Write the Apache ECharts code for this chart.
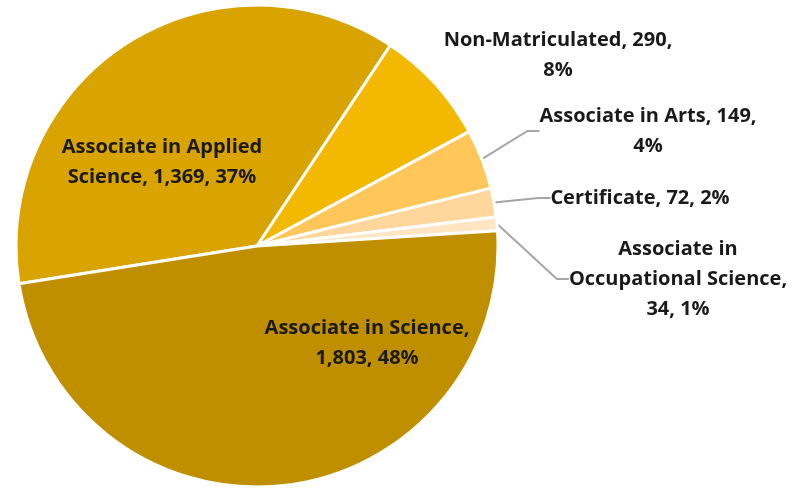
<!DOCTYPE html>
<html>
<head>
<meta charset="utf-8">
<script src="https://cdn.jsdelivr.net/npm/echarts@6/dist/echarts.min.js"></script>
<style>
  html, body { margin: 0; padding: 0; background: #fff; }
  #chart { width: 796px; height: 488px; }
</style>
</head>
<body>
<div id="chart"></div>
<script>
// data, in the order the slices run clockwise
const categories = [
  "Associate in Applied Science",
  "Non-Matriculated",
  "Associate in Arts",
  "Certificate",
  "Associate in Occupational Science",
  "Associate in Science",
];
const counts = [1369, 290, 149, 72, 34, 1803];
const percents = [37, 8, 4, 2, 1, 48];
// label text as it wraps in the picture
const labelTexts = [
  "Associate in Applied\nScience, 1,369, 37%",
  "Non-Matriculated, 290,\n8%",
  "Associate in Arts, 149,\n4%",
  "Certificate, 72, 2%",
  "Associate in\nOccupational Science,\n34, 1%",
  "Associate in Science,\n1,803, 48%",
];

const sliceColors = ["#D9A400", "#F3B800", "#FFC75A", "#FFD79C", "#FFE5C2", "#BF8F00"];
// where each label's centre sits
const labelSpots = [[162, 162], [558, 55], [648, 131], [640, 198], [678, 279], [367, 343]];
const showLine = [false, false, true, true, true, false];

const chart = echarts.init(document.getElementById("chart"));

chart.setOption({
  animation: false,
  series: [
    {
      type: "pie",
      center: [257, 246],
      radius: 241,
      startAngle: 189,
      clockwise: true,
      avoidLabelOverlap: false,
      itemStyle: { borderColor: "#fff", borderWidth: 3 },
      label: {
        position: "outside",
        fontFamily: "Open Sans",
        fontWeight: "bold",
        fontSize: 20,
        lineHeight: 30,
        color: "#1a1a1a",
        align: "center",
      },
      labelLine: {
        length: 10,
        length2: 12,
        lineStyle: { color: "#A6A6A6", width: 2 },
      },
      labelLayout: (p) => ({
        x: labelSpots[p.dataIndex][0],
        y: labelSpots[p.dataIndex][1],
        align: "center",
        verticalAlign: "middle",
      }),
      data: categories.map((name, i) => ({
        name: name,
        value: counts[i],
        itemStyle: { color: sliceColors[i] },
        label: { formatter: labelTexts[i] },
        labelLine: { show: showLine[i] },
      })),
    },
  ],
});
</script>
</body>
</html>
